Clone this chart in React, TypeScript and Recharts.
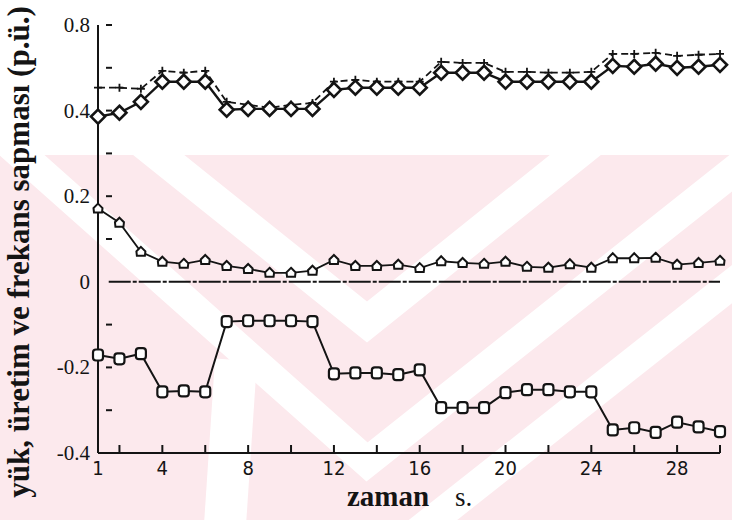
import React from 'react';
import { LineChart, Line, XAxis, YAxis, ReferenceLine } from 'recharts';

// zaman (s)
const times = [1, 2, 3, 4, 5, 6, 7, 8, 9, 10, 11, 12, 13, 14, 15, 16, 17, 18, 19, 20, 21, 22, 23, 24, 25, 26, 27, 28, 29, 30];

// üstteki kesikli seri (+ işaretli)
const plusValues = [0.507, 0.507, 0.502, 0.586, 0.577, 0.586, 0.441, 0.427, 0.413, 0.427, 0.436, 0.535, 0.544, 0.535, 0.535, 0.535, 0.628, 0.623, 0.623, 0.581, 0.581, 0.577, 0.577, 0.581, 0.665, 0.665, 0.67, 0.656, 0.661, 0.665];

// üstteki düz seri (baklava işaretli)
const diamondValues = [0.386, 0.395, 0.441, 0.535, 0.535, 0.535, 0.404, 0.408, 0.408, 0.408, 0.408, 0.497, 0.507, 0.507, 0.507, 0.507, 0.577, 0.577, 0.577, 0.535, 0.535, 0.535, 0.535, 0.535, 0.609, 0.605, 0.619, 0.6, 0.605, 0.614];

// ortadaki seri (üçgen işaretli)
const triangleValues = [0.171, 0.138, 0.07, 0.047, 0.042, 0.051, 0.037, 0.03, 0.021, 0.021, 0.026, 0.051, 0.037, 0.037, 0.04, 0.032, 0.048, 0.044, 0.042, 0.047, 0.035, 0.033, 0.041, 0.033, 0.055, 0.055, 0.056, 0.04, 0.044, 0.049];

// alttaki seri (kare işaretli)
const squareValues = [-0.171, -0.18, -0.168, -0.257, -0.255, -0.257, -0.093, -0.091, -0.091, -0.091, -0.093, -0.215, -0.213, -0.213, -0.217, -0.206, -0.294, -0.294, -0.294, -0.259, -0.252, -0.252, -0.257, -0.257, -0.346, -0.341, -0.352, -0.328, -0.339, -0.35];

const xTicks = [1, 2, 4, 6, 8, 10, 12, 14, 16, 18, 20, 22, 24, 26, 28, 30];
const xTickLabels = [1, 4, 8, 12, 16, 20, 24, 28];
const yTickValues = [-0.4, -0.3, -0.2, -0.1, 0, 0.1, 0.2, 0.3, 0.4, 0.6, 0.8];
const yTickLabels = [-0.4, -0.2, 0, 0.2, 0.4, 0.8];

const INK = '#141414';
const PINK = '#fce9ed';
const SERIF = "'Liberation Serif', 'Times New Roman', serif";
const NARROW = "'DejaVu Sans Condensed', sans-serif";
const PLOT_LEFT = 98;
const PLOT_BOTTOM = 453;

// eksen 0.4'ün üstünde yarı ölçekli
const BREAK = 0.4;
const toPlot = (v: number) => (v <= BREAK ? v : BREAK + (v - BREAK) / 2);
const fromPlot = (t: number) => (t <= BREAK ? t : BREAK + (t - BREAK) * 2);

const rows = times.map((t, i) => ({
  t,
  plus: toPlot(plusValues[i]),
  diamond: toPlot(diamondValues[i]),
  triangle: triangleValues[i],
  square: squareValues[i],
}));

const XTick = (props: any) => {
  const { x, payload } = props;
  const v = payload.value;
  return (
    <g>
      {v % 2 === 0 && (
        <line x1={x} x2={x} y1={PLOT_BOTTOM} y2={PLOT_BOTTOM - 8} stroke={INK} strokeWidth={2} />
      )}
      {xTickLabels.includes(v) && (
        <text x={x} y={PLOT_BOTTOM + 22} textAnchor="middle" style={{ fontFamily: NARROW }} fontSize={20} fill={INK}>
          {v}
        </text>
      )}
    </g>
  );
};

const YTick = (props: any) => {
  const { y, payload } = props;
  const real = Math.round(fromPlot(payload.value) * 10) / 10;
  const labelled = yTickLabels.some((l) => Math.abs(l - real) < 1e-6);
  return (
    <g>
      {real !== 0 && real !== -0.4 && (
        <line x1={PLOT_LEFT + 8} x2={PLOT_LEFT + 14} y1={y} y2={y} stroke={INK} strokeWidth={2} />
      )}
      {labelled && (
        <text x={PLOT_LEFT - 8} y={y + 7} textAnchor="end" style={{ fontFamily: SERIF }} fontSize={21} fill={INK}>
          {real === 0 ? '0' : real.toFixed(1)}
        </text>
      )}
    </g>
  );
};

const YTitle = () => (
  <text
    transform="rotate(-90)"
    x={-252}
    y={29}
    textAnchor="middle"
    style={{ fontFamily: SERIF }}
    fontWeight="bold"
    fontSize={31}
    fill={INK}
  >
    yük, üretim ve frekans sapması (p.ü.)
  </text>
);

const XTitle = () => (
  <g style={{ fontFamily: SERIF }} fill={INK}>
    <text x={347} y={506} fontSize={29} fontWeight="bold">zaman</text>
    <text x={455} y={506} fontSize={27}>s.</text>
  </g>
);

const diamondDot = (p: any) => (
  <path
    key={`dm-${p.index}`}
    d={`M${p.cx},${p.cy - 7} L${p.cx + 7},${p.cy} L${p.cx},${p.cy + 7} L${p.cx - 7},${p.cy} Z`}
    fill="#fff"
    stroke={INK}
    strokeWidth={2.6}
  />
);

const plusDot = (p: any) => (
  <path
    key={`pl-${p.index}`}
    d={`M${p.cx - 4},${p.cy} H${p.cx + 4} M${p.cx},${p.cy - 4} V${p.cy + 4}`}
    stroke={INK}
    strokeWidth={1.8}
  />
);

const triangleDot = (p: any) => (
  <path
    key={`tr-${p.index}`}
    d={`M${p.cx},${p.cy - 5} L${p.cx + 4.5},${p.cy - 0.5} L${p.cx + 4},${p.cy + 4} L${p.cx - 4},${p.cy + 4} L${p.cx - 4.5},${p.cy - 0.5} Z`}
    fill="#fff"
    stroke={INK}
    strokeWidth={2}
  />
);

const squareDot = (p: any) => (
  <rect
    key={`sq-${p.index}`}
    x={p.cx - 5}
    y={p.cy - 5.5}
    width={10}
    height={11}
    rx={3}
    fill="#fff"
    stroke={INK}
    strokeWidth={2.2}
  />
);

// arka plandaki soluk filigran
const Watermark = () => (
  <svg width={732} height={520} style={{ position: 'absolute', left: 0, top: 0 }}>
    <rect x={0} y={155} width={732} height={365} fill={PINK} />
    <g stroke="#fff" fill="none" strokeLinejoin="miter" strokeMiterlimit={10}>
      <polyline points="140,140 367,322 594,140" strokeWidth={32} />
      <polyline points="5,140 367,462 760,150" strokeWidth={30} />
      <polyline points="400,546 760,262" strokeWidth={30} />
      <polyline points="236,360 224,540" strokeWidth={42} />
    </g>
    <rect x={0} y={0} width={732} height={155} fill="#fff" />
  </svg>
);

export default function App() {
  return (
    <div style={{ position: 'absolute', left: 0, top: 0, width: 732, height: 520, background: '#fff' }}>
      <Watermark />
      <div style={{ position: 'absolute', left: 0, top: 0 }}>
        <LineChart width={732} height={520} data={rows} margin={{ top: 25, right: 12, bottom: 37, left: 38 }}>
          <XAxis
            dataKey="t"
            type="number"
            domain={[1, 30]}
            ticks={xTicks}
            interval={0}
            height={30}
            tickLine={false}
            axisLine={{ stroke: INK, strokeWidth: 2 }}
            tick={(p: any) => <XTick {...p} />}
            label={<XTitle />}
          />
          <YAxis
            type="number"
            domain={[-0.4, 0.6]}
            ticks={yTickValues.map(toPlot)}
            interval={0}
            width={60}
            tickLine={false}
            axisLine={{ stroke: INK, strokeWidth: 2 }}
            tick={(p: any) => <YTick {...p} />}
            label={<YTitle />}
          />
          <ReferenceLine
            segment={[{ x: 1.5, y: 0 }, { x: 30, y: 0 }]}
            stroke={INK}
            strokeWidth={2}
            strokeDasharray="22 2 4 2"
          />
          <Line
            type="linear"
            dataKey="plus"
            stroke={INK}
            strokeWidth={1.8}
            strokeDasharray="7 4"
            dot={plusDot}
            isAnimationActive={false}
          />
          <Line
            type="linear"
            dataKey="diamond"
            stroke={INK}
            strokeWidth={2.4}
            dot={diamondDot}
            isAnimationActive={false}
          />
          <Line
            type="linear"
            dataKey="triangle"
            stroke={INK}
            strokeWidth={1.8}
            dot={triangleDot}
            isAnimationActive={false}
          />
          <Line
            type="linear"
            dataKey="square"
            stroke={INK}
            strokeWidth={2}
            dot={squareDot}
            isAnimationActive={false}
          />
        </LineChart>
      </div>
    </div>
  );
}
